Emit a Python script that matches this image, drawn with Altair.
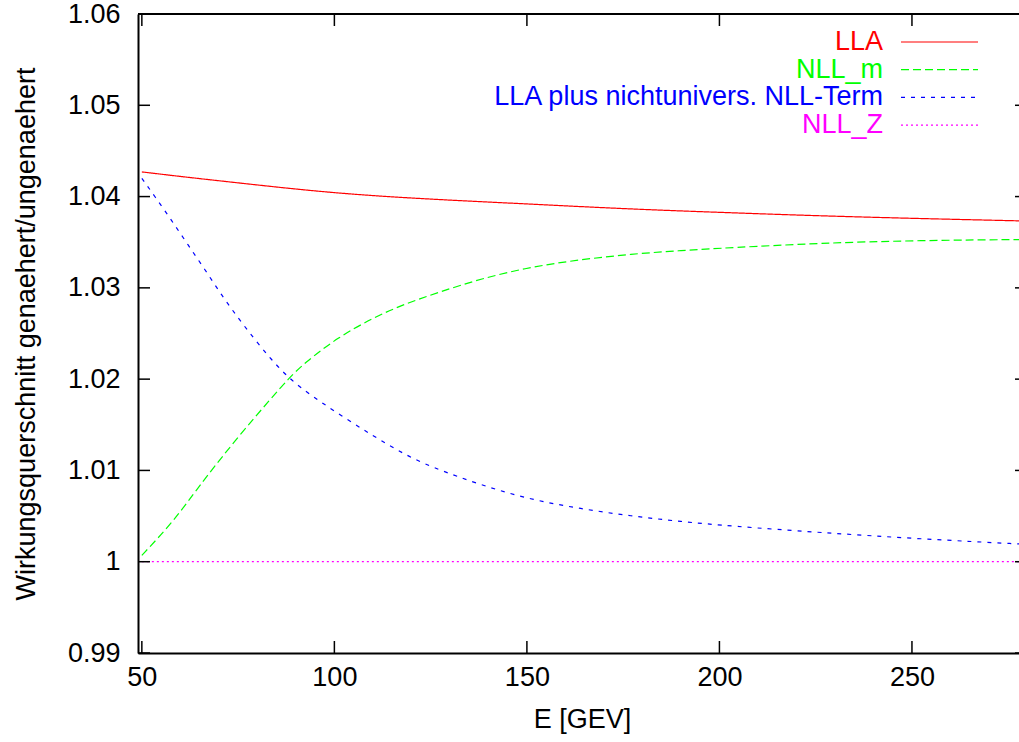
import altair as alt
import pandas as pd

FONT = "Liberation Sans"
FS = 27

# ---- data ----
series_names = ["LLA", "NLL_m", "LLA plus nichtunivers. NLL-Term", "NLL_Z"]
series_colors = ["#ff0000", "#00ff00", "#0000ff", "#ff00ff"]
series_dash = [[1, 0], [8, 4], [4, 6], [2, 3]]

lla_E = [50, 60, 75, 100, 125, 150, 175, 200, 225, 250, 280]
lla_v = [1.0427, 1.0422, 1.0415, 1.04035, 1.0397, 1.0392, 1.03866, 1.03827, 1.0379, 1.03761, 1.03732]

nllm_E = [50, 54, 58, 62, 66, 75, 84, 88, 92, 101, 110, 118, 127, 138, 151, 164, 177, 190, 203, 226, 252, 280]
nllm_v = [1.0007, 1.0025, 1.0044, 1.0066, 1.0089, 1.0137, 1.0181, 1.0200, 1.0217, 1.0246, 1.0267, 1.0282,
          1.0295, 1.0310, 1.0323, 1.0331, 1.0337, 1.0341, 1.0344, 1.0349, 1.0352, 1.0353]

blue_E = [50, 53.4, 57.7, 62, 66.4, 70.7, 75, 79.4, 83.7, 88, 92.3, 101, 110, 118, 125, 138, 151, 164, 177,
          190, 203, 226, 252, 280]
blue_v = [1.0420, 1.0400, 1.0374, 1.0347, 1.0320, 1.0292, 1.0267, 1.0243, 1.0221, 1.0202, 1.0187, 1.0162,
          1.0138, 1.0118, 1.0104, 1.0084, 1.0068, 1.0058, 1.0050, 1.0044, 1.0039, 1.0032, 1.0025, 1.0019]

nllz_E = [50, 280]
nllz_v = [1.0, 1.0]

x_ticks = [50, 100, 150, 200, 250]
y_ticks = [0.99, 1.0, 1.01, 1.02, 1.03, 1.04, 1.05, 1.06]

x_title = "E [GEV]"
y_title = "Wirkungsquerschnitt genaehert/ungenaehert"

# ---- layout ----
W, H = 881, 639

rows = []
for name, Es, vs in zip(series_names, [lla_E, nllm_E, blue_E, nllz_E], [lla_v, nllm_v, blue_v, nllz_v]):
    for e, v in zip(Es, vs):
        rows.append({"series": name, "E": e, "v": v})
df = pd.DataFrame(rows)

xscale = alt.Scale(domain=[49, 277.8], nice=False, zero=False)
yscale = alt.Scale(domain=[0.99, 1.06], nice=False, zero=False)

lines = alt.Chart(df).mark_line(strokeWidth=1.2, clip=True, interpolate="basis").encode(
    x=alt.X("E:Q", scale=xscale, axis=alt.Axis(
        values=x_ticks, title=x_title, grid=False, ticks=False, labelPadding=11,
        labelFont=FONT, labelFontSize=FS, labelColor="black",
        titleFont=FONT, titleFontSize=FS, titleFontWeight="normal", titleColor="black",
        titleX=444, titleY=66, titleBaseline="middle", titleAlign="center",
        domainColor="black", domainWidth=2)),
    y=alt.Y("v:Q", scale=yscale, axis=alt.Axis(
        values=y_ticks, title=y_title, grid=False, ticks=False, labelPadding=18,
        labelExpr="format(datum.value, '~g')",
        labelFont=FONT, labelFontSize=FS, labelColor="black",
        titleFont=FONT, titleFontSize=FS, titleFontWeight="normal", titleColor="black",
        titleX=-112, titleY=H / 2, titleBaseline="middle", titleAlign="center", titleAngle=-90,
        domainColor="black", domainWidth=2)),
    color=alt.Color("series:N", scale=alt.Scale(domain=series_names, range=series_colors), legend=None),
    strokeDash=alt.StrokeDash("series:N", scale=alt.Scale(domain=series_names, range=series_dash), legend=None),
)

xt = pd.DataFrame({"E": x_ticks})
yt = pd.DataFrame({"v": y_ticks})
tick_style = dict(color="black", strokeWidth=1.5)
bottom_ticks = alt.Chart(xt).mark_rule(**tick_style).encode(x="E:Q", y=alt.value(H), y2=alt.value(H - 12))
top_ticks = alt.Chart(xt).mark_rule(**tick_style).encode(x="E:Q", y=alt.value(0), y2=alt.value(12))
left_ticks = alt.Chart(yt).mark_rule(**tick_style).encode(y="v:Q", x=alt.value(0), x2=alt.value(12))
right_ticks = alt.Chart(yt).mark_rule(**tick_style).encode(y="v:Q", x=alt.value(W - 4), x2=alt.value(W))
top_border = alt.Chart(xt).mark_rule(color="black", strokeWidth=2).encode(
    x=alt.value(0), x2=alt.value(W), y=alt.value(0))

legend_layers = []
for i, (name, col, dash) in enumerate(zip(series_names, series_colors, series_dash)):
    ypos = 28 + 27.7 * i
    ldf = pd.DataFrame({"label": [name]})
    legend_layers.append(
        alt.Chart(ldf).mark_text(align="right", baseline="middle", font=FONT, fontSize=FS, color=col).encode(
            x=alt.value(745), y=alt.value(ypos), text="label:N"))
    legend_layers.append(
        alt.Chart(ldf).mark_rule(color=col, strokeDash=dash, strokeWidth=1.2).encode(
            x=alt.value(763), x2=alt.value(840), y=alt.value(ypos)))

chart = alt.layer(
    lines, bottom_ticks, top_ticks, left_ticks, right_ticks, top_border, *legend_layers
).properties(
    width=W, height=H,
    padding={"left": 138, "top": 14, "right": 0, "bottom": 89},
    autosize=alt.AutoSizeParams(type="none"),
    background="white",
).configure_view(stroke=None)

chart.save("out.html", embed_options={"renderer": "svg", "actions": False})
